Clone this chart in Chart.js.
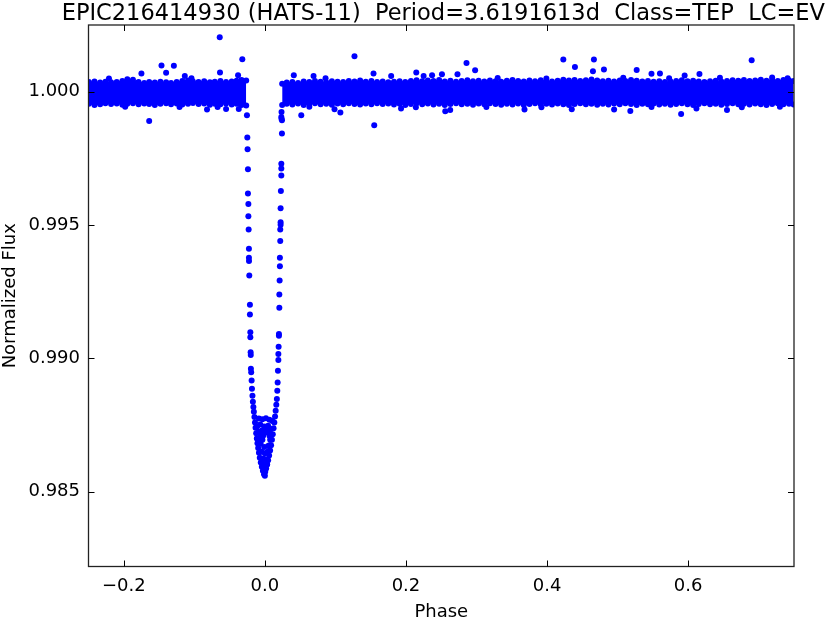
<!DOCTYPE html>
<html><head><meta charset="utf-8">
<script src="https://cdn.jsdelivr.net/npm/chart.js@4/dist/chart.umd.min.js"></script>
<style>html,body{margin:0;padding:0;background:#fff}canvas{display:block}</style>
</head><body>
<canvas id="c" width="830" height="620" style="width:830px;height:620px"></canvas>
<script>
const titleText = 'EPIC216414930 (HATS-11)  Period=3.6191613d  Class=TEP  LC=EV';
const xTitle = 'Phase';
const yTitle = 'Normalized Flux';
const xTickValues = [-0.2, 0.0, 0.2, 0.4, 0.6];
const xTickLabels = ['\u22120.2', '0.0', '0.2', '0.4', '0.6'];
const yTickValues = [0.985, 0.990, 0.995, 1.000];
const yTickLabels = ['0.985', '0.990', '0.995', '1.000'];
const xRange = [-0.25, 0.75];
const yRange = [0.9822, 1.0025];

// dense out-of-transit band: phases with upper / lower edge fluxes
const bandLeftPhase = [-0.2495,-0.2415,-0.2335,-0.2260,-0.2180,-0.2100,-0.2020,-0.1950,-0.1870,-0.1790,-0.1710,-0.1640,-0.1560,-0.1480,-0.1400,-0.1330,-0.1250,-0.1170,-0.1090,-0.1020,-0.0940,-0.0860,-0.0780,-0.0710,-0.0630,-0.0550,-0.0470,-0.0400,-0.0330,-0.0265];
const bandLeftUpper = [1.00036,1.00038,1.00034,1.00037,1.00035,1.00036,1.00040,1.00047,1.00045,1.00036,1.00033,1.00036,1.00034,1.00037,1.00035,1.00033,1.00036,1.00040,1.00042,1.00038,1.00036,1.00039,1.00035,1.00037,1.00040,1.00036,1.00038,1.00041,1.00044,1.00042];
const bandLeftLower = [0.99955,0.99950,0.99953,0.99957,0.99954,0.99956,0.99951,0.99955,0.99957,0.99953,0.99956,0.99954,0.99950,0.99955,0.99957,0.99953,0.99956,0.99952,0.99955,0.99958,0.99954,0.99956,0.99951,0.99955,0.99953,0.99956,0.99952,0.99955,0.99950,0.99948];

const bandRightPhase = [0.0245,0.0310,0.0390,0.0470,0.0550,0.0630,0.0710,0.0790,0.0870,0.0950,0.1030,0.1110,0.1190,0.1270,0.1350,0.1430,0.1510,0.1590,0.1670,0.1750,0.1830,0.1910,0.1990,0.2070,0.2150,0.2230,0.2310,0.2390,0.2470,0.2550,0.2630,0.2710,0.2790,0.2870,0.2950,0.3030,0.3110,0.3190,0.3270,0.3350,0.3430,0.3510,0.3590,0.3670,0.3750,0.3830,0.3910,0.3990,0.4070,0.4150,0.4230,0.4310,0.4390,0.4470,0.4550,0.4630,0.4710,0.4790,0.4870,0.4950,0.5030,0.5110,0.5190,0.5270,0.5350,0.5430,0.5510,0.5590,0.5670,0.5750,0.5830,0.5910,0.5990,0.6070,0.6150,0.6230,0.6310,0.6390,0.6470,0.6550,0.6630,0.6710,0.6790,0.6870,0.6950,0.7030,0.7110,0.7190,0.7270,0.7350,0.7430,0.7495];
const bandRightUpper = [1.00030,1.00034,1.00036,1.00033,1.00038,1.00036,1.00040,1.00037,1.00035,1.00039,1.00037,1.00036,1.00040,1.00038,1.00042,1.00037,1.00040,1.00036,1.00038,1.00035,1.00037,1.00039,1.00036,1.00040,1.00043,1.00039,1.00042,1.00040,1.00044,1.00038,1.00041,1.00037,1.00040,1.00043,1.00039,1.00041,1.00038,1.00042,1.00039,1.00037,1.00041,1.00044,1.00040,1.00038,1.00042,1.00039,1.00043,1.00040,1.00038,1.00041,1.00045,1.00042,1.00044,1.00040,1.00043,1.00046,1.00042,1.00039,1.00041,1.00038,1.00042,1.00040,1.00044,1.00041,1.00038,1.00040,1.00037,1.00039,1.00036,1.00038,1.00040,1.00043,1.00039,1.00041,1.00038,1.00036,1.00039,1.00041,1.00038,1.00040,1.00043,1.00041,1.00044,1.00040,1.00042,1.00045,1.00041,1.00043,1.00040,1.00044,1.00042,1.00040];
const bandRightLower = [0.99950,0.99955,0.99952,0.99956,0.99950,0.99954,0.99957,0.99953,0.99955,0.99951,0.99956,0.99953,0.99957,0.99954,0.99952,0.99956,0.99953,0.99957,0.99954,0.99956,0.99952,0.99955,0.99950,0.99954,0.99957,0.99953,0.99956,0.99952,0.99955,0.99950,0.99954,0.99957,0.99953,0.99955,0.99951,0.99956,0.99953,0.99957,0.99954,0.99951,0.99955,0.99952,0.99956,0.99950,0.99954,0.99957,0.99953,0.99955,0.99952,0.99956,0.99953,0.99950,0.99954,0.99957,0.99953,0.99955,0.99951,0.99955,0.99952,0.99956,0.99953,0.99957,0.99954,0.99950,0.99955,0.99953,0.99956,0.99952,0.99955,0.99951,0.99954,0.99957,0.99953,0.99950,0.99954,0.99957,0.99953,0.99955,0.99951,0.99954,0.99957,0.99953,0.99955,0.99952,0.99956,0.99953,0.99950,0.99954,0.99957,0.99953,0.99955,0.99952];

// scattered points outside the band
const outliers = [
 [-0.064,1.00204],[-0.032,1.00122],[-0.1465,1.00098],[-0.129,1.00097],[-0.140,1.00071],[-0.175,1.00068],
 [-0.0636,1.00072],[-0.1135,1.00059],[-0.038,1.00062],[0.127,1.00133],[0.154,1.00068],[0.041,1.00062],
 [0.069,1.00059],[0.179,1.00059],[0.2146,1.00072],[0.225,1.00059],[0.237,1.00062],[0.251,1.00065],
 [0.2858,1.00108],[0.298,1.00080],[0.273,1.00065],[0.423,1.00121],[0.4395,1.00093],[0.4664,1.00121],
 [0.465,1.00077],[0.4806,1.00083],[0.690,1.00118],[0.527,1.00081],[0.548,1.00067],[0.560,1.00068],
 [0.616,1.00066],[0.595,1.00061],
 [-0.164,0.99890],[-0.082,0.99933],[-0.055,0.99935],[-0.067,0.99943],[-0.037,0.99935],[0.155,0.99874],
 [0.0987,0.99934],[0.107,0.99922],[0.0516,0.99912],[0.193,0.99937],[0.2557,0.99927],[0.2627,0.99931],
 [0.368,0.99933],[0.435,0.99934],[0.495,0.99933],[0.518,0.99928],[0.590,0.99916],[0.6117,0.99937],[0.655,0.99931],
 [-0.221,1.00049],[-0.104,1.00050],[0.086,1.00050],[0.330,1.00051],[0.399,1.00049],[0.508,1.00052],
 [0.573,1.00050],[0.645,1.00052],[0.741,1.00050],[0.719,1.00053],
 [-0.198,0.99944],[-0.121,0.99943],[0.063,0.99944],[0.214,0.99942],[0.314,0.99943],[0.392,0.99942],
 [0.548,0.99943],[0.676,0.99942],[0.730,0.99944]
];

// in-transit points
const transit = [
 [-0.0254,0.99912],[-0.0249,0.99828],[-0.0245,0.99784],[-0.0240,0.99709],[-0.0240,0.99618],[-0.0234,0.99579],
 [-0.0234,0.99533],[-0.0230,0.99483],[-0.0226,0.99411],[-0.0226,0.99377],[-0.0225,0.99365],[-0.0221,0.99311],
 [-0.0212,0.99201],[-0.0212,0.99165],[-0.0206,0.99098],[-0.0206,0.99079],[-0.0202,0.99023],[-0.0200,0.99013],
 [-0.0198,0.98961],[-0.0194,0.98948],[-0.0188,0.98917],[-0.0183,0.98886],
 [-0.0176,0.98860],[-0.0170,0.98838],[-0.0163,0.98818],[-0.0156,0.98800],[-0.0148,0.98780],[-0.0140,0.98760],
 [-0.0132,0.98740],[-0.0123,0.98720],[-0.0114,0.98700],[-0.0105,0.98682],[-0.0095,0.98664],[-0.0084,0.98646],
 [-0.0072,0.98628],[-0.0058,0.98610],[-0.0043,0.98594],[-0.0028,0.98579],
 [-0.0012,0.98566],[0.0000,0.98560],[0.0005,0.98575],
 [0.0018,0.98587],[0.0032,0.98602],[0.0046,0.98618],[0.0060,0.98636],[0.0074,0.98655],[0.0088,0.98675],
 [0.0100,0.98695],[0.0112,0.98716],[0.0123,0.98738],[0.0134,0.98760],[0.0144,0.98782],[0.0153,0.98804],
 [0.0162,0.98826],[0.0170,0.98848],[0.0176,0.98879],
 [0.0181,0.98910],[0.0185,0.98954],[0.0191,0.98994],[0.0191,0.99017],[0.0195,0.99044],[0.0199,0.99085],
 [0.0199,0.99092],[0.0205,0.99190],[0.0205,0.99240],[0.0209,0.99292],[0.0213,0.99346],[0.0213,0.99377],
 [0.0218,0.99440],[0.0218,0.99483],[0.0223,0.99501],[0.0223,0.99511],[0.0223,0.99563],[0.0227,0.99628],
 [0.0233,0.99686],[0.0233,0.99712],[0.0233,0.99730],[0.0242,0.99843],[0.0242,0.99893],[0.0236,0.99899],
 [0.0236,0.99924],[0.0233,0.99905],
 [-0.0065,0.98752],[-0.0010,0.98745],[0.0045,0.98748],[0.0085,0.98736],[-0.0090,0.98725],[-0.0060,0.98712],
 [0.0065,0.98710],[-0.0035,0.98695],[0.0015,0.98722],[-0.0010,0.98668],[0.0045,0.98672],[-0.0045,0.98650],
 [0.0000,0.98645],[0.0040,0.98650],[-0.0020,0.98625],[0.0022,0.98620],[0.0000,0.98600],[-0.0030,0.98605],[0.0030,0.98603],
 [-0.0085,0.98775],[-0.0035,0.98772],[0.0015,0.98776],[0.0065,0.98770],[0.0105,0.98765],[-0.0110,0.98745],
 [-0.0040,0.98730],[0.0020,0.98735],[0.0070,0.98728],[-0.0075,0.98700],[0.0075,0.98695],[-0.0060,0.98680],
 [0.0065,0.98675],[-0.0025,0.98710]
];

const BLUE = '#0000ff';
const FONT = 'DejaVu Sans';
const pts = (xs, ys) => xs.map((v, i) => ({x: v, y: ys[i]}));
const pairPts = arr => arr.map(p => ({x: p[0], y: p[1]}));

const bandStyle = {
  type: 'line', borderColor: BLUE, borderWidth: 1, backgroundColor: BLUE,
  pointRadius: 3, pointHoverRadius: 3, pointBackgroundColor: BLUE, pointBorderColor: BLUE,
  pointBorderWidth: 0, tension: 0, clip: 0
};
const dotStyle = {
  type: 'scatter', showLine: false, pointRadius: 3, pointHoverRadius: 3,
  pointBackgroundColor: BLUE, pointBorderColor: BLUE, pointBorderWidth: 0, backgroundColor: BLUE, clip: 0
};

const framePlugin = {
  id: 'frameAndTitle',
  afterDraw(chart) {
    const {ctx, chartArea: a, scales: {x, y}} = chart;
    ctx.save();
    ctx.strokeStyle = '#222';
    ctx.lineWidth = 1.3;
    ctx.strokeRect(a.left, a.top, a.right - a.left, a.bottom - a.top);
    const L = 6;
    ctx.lineWidth = 1;
    ctx.strokeStyle = '#000';
    ctx.beginPath();
    xTickValues.forEach(v => {
      const px = Math.round(x.getPixelForValue(v)) + 0.5;
      ctx.moveTo(px, a.bottom); ctx.lineTo(px, a.bottom - L);
      ctx.moveTo(px, a.top); ctx.lineTo(px, a.top + L);
    });
    yTickValues.forEach(v => {
      const py = Math.round(y.getPixelForValue(v)) + 0.5;
      ctx.moveTo(a.left, py); ctx.lineTo(a.left + L, py);
      ctx.moveTo(a.right, py); ctx.lineTo(a.right - L, py);
    });
    ctx.stroke();
    ctx.fillStyle = '#000';
    ctx.font = '22.5px "' + FONT + '"';
    ctx.textAlign = 'center';
    ctx.textBaseline = 'alphabetic';
    ctx.fillText(titleText, (a.left + a.right) / 2 + 2, 20);
    ctx.restore();
  }
};

new Chart(document.getElementById('c'), {
  type: 'scatter',
  data: {
    datasets: [
      {...bandStyle, data: pts(bandLeftPhase, bandLeftUpper), fill: '+1'},
      {...bandStyle, data: pts(bandLeftPhase, bandLeftLower), fill: false},
      {...bandStyle, data: pts(bandRightPhase, bandRightUpper), fill: '+1'},
      {...bandStyle, data: pts(bandRightPhase, bandRightLower), fill: false},
      {...dotStyle, data: pairPts(outliers)},
      {...dotStyle, data: pairPts(transit)}
    ]
  },
  options: {
    responsive: false,
    devicePixelRatio: 1,
    animation: false,
    events: [],
    layout: {padding: {top: 25, right: 36, bottom: 0, left: 0}},
    plugins: {legend: {display: false}, tooltip: {enabled: false}, title: {display: false}},
    scales: {
      x: {
        type: 'linear', position: 'bottom', min: xRange[0], max: xRange[1],
        grid: {display: false, drawTicks: false}, border: {display: false},
        afterBuildTicks: s => { s.ticks = xTickValues.map(v => ({value: v})); },
        afterFit: s => { s.height = 53.5; },
        ticks: {autoSkip: false, maxRotation: 0, padding: 9.5, color: '#000',
          font: {family: FONT, size: 18}, callback: (v, i) => xTickLabels[i]},
        title: {display: true, text: xTitle, color: '#000',
          font: {family: FONT, size: 18, lineHeight: 0.8}, padding: 0}
      },
      y: {
        type: 'linear', position: 'left', min: yRange[0], max: yRange[1],
        grid: {display: false, drawTicks: false}, border: {display: false},
        afterBuildTicks: s => { s.ticks = yTickValues.map(v => ({value: v})); },
        afterFit: s => { s.width = 88.5; },
        ticks: {autoSkip: false, padding: 8.5, color: '#000',
          font: {family: FONT, size: 18}, callback: (v, i) => yTickLabels[i]},
        title: {display: true, text: yTitle, color: '#000',
          font: {family: FONT, size: 18}, padding: 0}
      }
    }
  },
  plugins: [framePlugin]
});
</script>
</body></html>
